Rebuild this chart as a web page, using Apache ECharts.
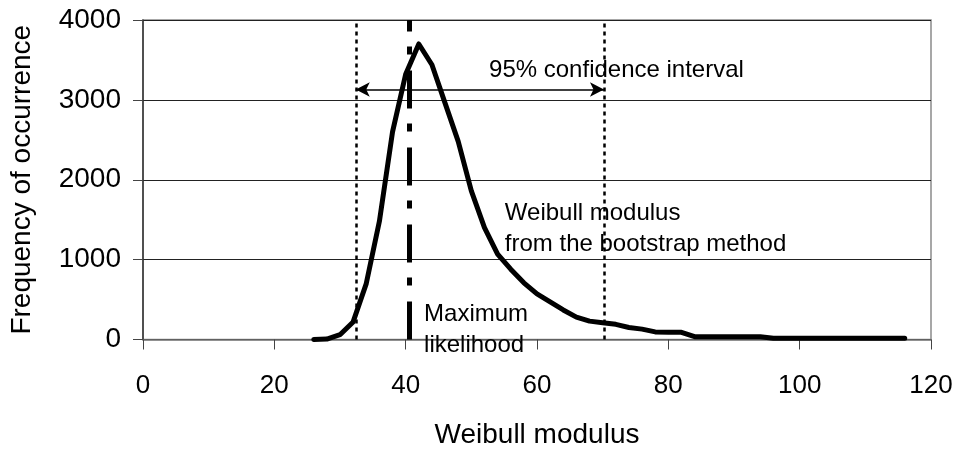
<!DOCTYPE html>
<html>
<head>
<meta charset="utf-8">
<script src="https://cdn.jsdelivr.net/npm/echarts/dist/echarts.min.js"></script>
<style>
  html, body { margin: 0; padding: 0; background: #fff; }
  #chart { width: 958px; height: 450px; }
</style>
</head>
<body>
<div id="chart"></div>
<script>
// Bootstrap distribution of the Weibull modulus (histogram counts per bin)
const modulusBins = [26, 28, 30, 32, 34, 36, 38, 40, 42, 44, 46, 48, 50, 52, 54, 56, 58, 60,
  62, 64, 66, 68, 70, 72, 74, 76, 78, 80, 82, 84, 86, 88, 90, 92, 94, 96, 98, 100,
  102, 104, 106, 108, 110, 112, 114, 116];
const frequency = [0, 5, 60, 220, 700, 1480, 2600, 3320, 3700, 3440, 2960, 2480, 1860, 1400,
  1070, 880, 710, 570, 470, 370, 280, 230, 210, 190, 150, 130, 95, 90, 90, 35, 35, 35,
  35, 35, 35, 15, 15, 15, 15, 15, 15, 15, 15, 15, 15, 15];

// Reference values
const ciLower = 32.4;          // 2.5 % bound of the bootstrap distribution
const ciUpper = 70.2;          // 97.5 % bound
const mleModulus = 40.6;       // maximum likelihood estimate
const ciArrowLevel = 3130;     // height at which the interval arrow is drawn

// Axis settings
const xTicks = { min: 0, max: 120, interval: 20 };
const yTicks = { min: 0, max: 4000, interval: 1000 };

// Annotation anchors (data units: left edge, vertical centre)
const annotations = [
  { text: '95% confidence interval', at: [52.7, 3370] },
  { text: 'Weibull modulus\nfrom the bootstrap method', at: [55.1, 1380] },
  { text: 'Maximum\nlikelihood', at: [42.8, 120] }
];

const FONT = '"Liberation Sans", Arial, Helvetica, sans-serif';
const curve = modulusBins.map((x, i) => [x, frequency[i]]);

const chart = echarts.init(document.getElementById('chart'), null, { renderer: 'canvas' });

chart.setOption({
  animation: false,
  backgroundColor: '#ffffff',
  grid: {
    left: 143, right: 27, top: 20, bottom: 110.5,
    containLabel: false,
    outerBoundsMode: 'none',
    show: true, borderColor: '#8a8a8a', borderWidth: 1.5, backgroundColor: 'transparent'
  },
  xAxis: {
    type: 'value',
    min: xTicks.min, max: xTicks.max, interval: xTicks.interval,
    name: 'Weibull modulus',
    nameLocation: 'middle',
    nameGap: 82,
    nameTextStyle: { fontFamily: FONT, fontSize: 28, color: '#000' },
    axisLine: { show: true, onZero: false, lineStyle: { color: '#777', width: 1.5 } },
    axisTick: { show: true, inside: false, length: 10, lineStyle: { color: '#444', width: 1 } },
    axisLabel: { fontFamily: FONT, fontSize: 26, color: '#000', margin: 33,
      formatter: (v) => String(v) },
    splitLine: { show: false }
  },
  yAxis: {
    type: 'value',
    min: yTicks.min, max: yTicks.max, interval: yTicks.interval,
    name: 'Frequency of occurrence',
    nameLocation: 'middle',
    nameGap: 107,
    nameRotate: 90,
    nameTextStyle: { fontFamily: FONT, fontSize: 28, color: '#000' },
    axisLine: { show: true, lineStyle: { color: '#333', width: 1.5 } },
    axisTick: { show: true, inside: false, length: 10, lineStyle: { color: '#444', width: 1 } },
    axisLabel: { fontFamily: FONT, fontSize: 28, color: '#000', margin: 22,
      formatter: (v) => String(v) },
    splitLine: { show: true, lineStyle: { color: '#222', width: 1 } }
  },
  series: [
    {
      name: 'Bootstrap',
      type: 'line',
      data: curve,
      showSymbol: false,
      symbol: 'none',
      smooth: false,
      lineStyle: { color: '#000', width: 5, join: 'round', cap: 'round' },
      z: 5
    },
    {
      name: 'Markers',
      type: 'line',
      data: [],
      markLine: {
        silent: true,
        symbol: ['none', 'none'],
        label: { show: false },
        data: [
          { xAxis: ciLower, lineStyle: { color: '#000', width: 2.5, type: [4, 4] } },
          { xAxis: ciUpper, lineStyle: { color: '#000', width: 2.5, type: [4, 4] } },
          { xAxis: mleModulus, lineStyle: { color: '#000', width: 5, type: [38, 16, 8, 15] } },
          [
            { coord: [ciLower, ciArrowLevel], symbol: 'arrow', symbolSize: [11, 14] },
            { coord: [ciUpper, ciArrowLevel], symbol: 'arrow', symbolSize: [11, 14],
              lineStyle: { color: '#000', width: 1.5, type: 'solid' } }
          ]
        ]
      },
      markPoint: {
        silent: true,
        symbol: 'circle',
        symbolSize: 0,
        label: {
          show: true,
          position: 'right',
          distance: 0,
          fontFamily: FONT,
          fontSize: 24,
          lineHeight: 31,
          color: '#000',
          formatter: (p) => p.name
        },
        data: annotations.map(a => ({ name: a.text, coord: a.at }))
      },
      z: 4
    }
  ]
});
</script>
</body>
</html>
